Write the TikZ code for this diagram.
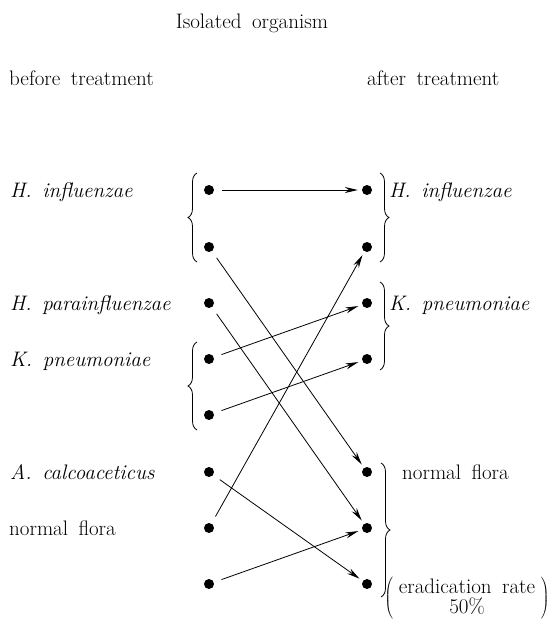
\documentclass[tikz,border=0pt]{standalone}
\usetikzlibrary{arrows.meta,decorations.pathreplacing}
\begin{document}
\begin{tikzpicture}[x=1pt,y=-1pt,
  dot/.style={circle,fill=black,inner sep=0pt,minimum size=10pt},
  txt/.style={inner sep=0pt,font=\fontsize{21}{25}\selectfont,execute at begin node={\spaceskip=0.5em plus 0.1em\relax}},
  lbl/.style={txt,anchor=base west},
  conn/.style={-{Stealth[length=13pt,width=6pt]},line width=0.8pt,shorten <=8pt,shorten >=4pt},
  brc/.style={decorate,decoration={brace,amplitude=9pt},line width=0.8pt}]
\useasboundingbox (0,0) rectangle (552,622);
% headings
\node[txt,anchor=base] (title) at (252,28) {Isolated organism};
\node[lbl] (before) at (9,85) {before treatment};
\node[lbl] (after) at (367,85) {after treatment};
% left dots
\node[dot] (L1) at (209,190) {};
\node[dot] (L2) at (209,247) {};
\node[dot] (L3) at (209,303) {};
\node[dot] (L4) at (209,359) {};
\node[dot] (L5) at (209,415) {};
\node[dot] (L6) at (209,472) {};
\node[dot] (L7) at (209,528) {};
\node[dot] (L8) at (209,584) {};
% right dots
\node[dot] (R1) at (367,190) {};
\node[dot] (R2) at (367,247) {};
\node[dot] (R3) at (367,303) {};
\node[dot] (R4) at (367,359) {};
\node[dot] (R5) at (367,472) {};
\node[dot] (R6) at (367,528) {};
\node[dot] (R7) at (367,584) {};
% left labels
\node[lbl] (lhi) at (10,197) {\itshape H.\ influenzae};
\node[lbl] (lhp) at (10,310) {\itshape H.\ parainfluenzae};
\node[lbl] (lkp) at (10,366) {\itshape K.\ pneumoniae};
\node[lbl] (lac) at (10,479) {\itshape A.\ calcoaceticus};
\node[lbl] (lnf) at (9,535) {normal flora};
% right labels
\node[lbl] (rhi) at (389,197) {\itshape H.\ influenzae};
\node[lbl] (rkp) at (389,310) {\itshape K.\ pneumoniae};
\node[lbl] (rnf) at (402,479) {normal flora};
\node[txt,anchor=center] (rate) at (467,598) {$\left(\;\begin{tabular}{@{}c@{}}eradication rate\\[-5pt]50\%\end{tabular}\;\right)$};
% braces
\draw[brc] (197,262) -- (197,173);
\draw[brc] (197,430) -- (197,342);
\draw[brc] (380,173) -- (380,262);
\draw[brc] (380,282) -- (380,370);
\draw[brc] (381,463) -- (381,597);
% connectors
\draw[conn] (L1) -- (R1);
\draw[conn] (L2) -- (R5);
\draw[conn] (L3) -- (R6);
\draw[conn] (L4) -- (R3);
\draw[conn] (L5) -- (R4);
\draw[conn] (L6) -- (R7);
\draw[conn] (L7) -- (R2);
\draw[conn] (L8) -- (R6);
\end{tikzpicture}
\end{document}
